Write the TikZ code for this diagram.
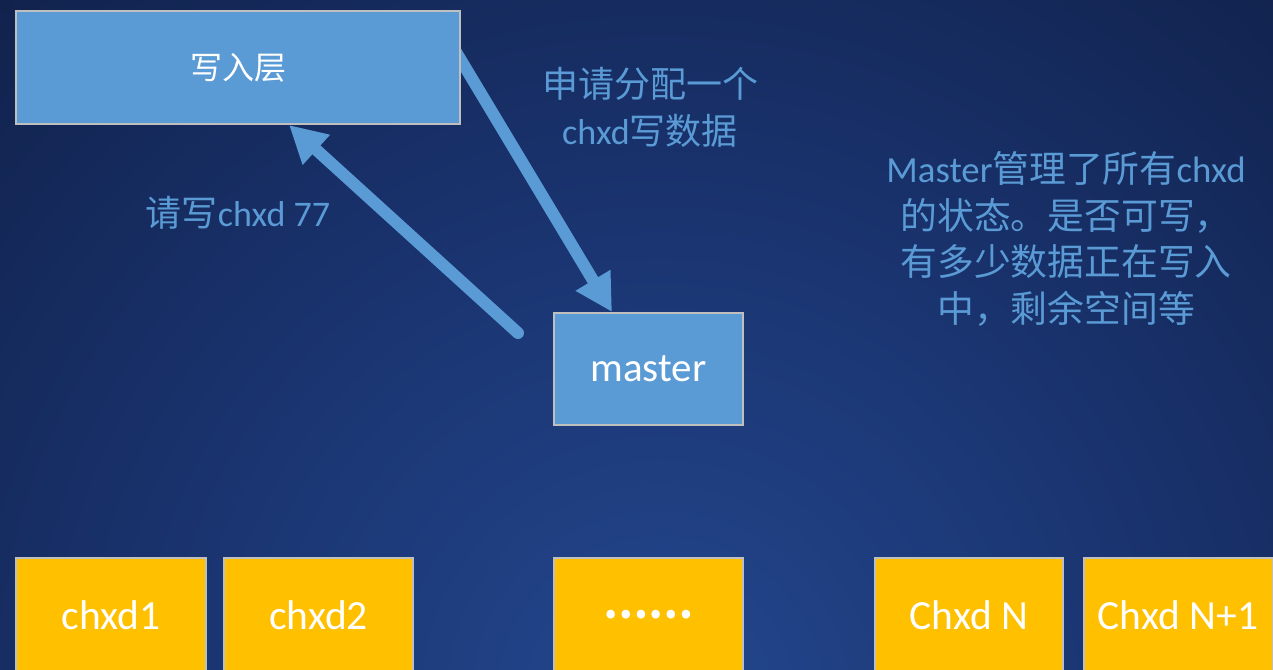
\documentclass[tikz,border=0pt]{standalone}
\usepackage{fontspec}
\setmainfont{Carlito}
\newfontfamily\cjk{Noto Sans CJK SC}
\usetikzlibrary{arrows.meta,calc}
\definecolor{bgA}{HTML}{23478E}
\definecolor{bgM}{HTML}{1A3470}
\definecolor{bgB}{HTML}{0F1E44}
\definecolor{bgC}{HTML}{080F22}
\definecolor{boxblue}{HTML}{5B9BD5}
\definecolor{boxgold}{HTML}{FFC000}
\definecolor{edgegray}{HTML}{BFBFBF}
\pgfdeclareradialshading{bgshade}{\pgfpointorigin}{color(0bp)=(bgA); color(12bp)=(bgM); color(27bp)=(bgB); color(50bp)=(bgC)}
\tikzset{
  bluebox/.style={draw=edgegray, line width=2pt, fill=boxblue, inner sep=0pt, text=white},
  goldbox/.style={draw=edgegray, line width=2pt, fill=boxgold, inner sep=0pt, text=white,
    minimum height=114pt, font=\fontsize{41.5}{48}\selectfont},
  lbl/.style={text=boxblue, align=center, font=\fontsize{36}{47}\selectfont, inner sep=0pt},
  bigarrow/.style={draw=boxblue, line width=12pt, line cap=round,
    -{Triangle[width=38pt,length=37pt]}}
}
\begin{document}
\begin{tikzpicture}[x=1pt,y=-1pt]
\useasboundingbox (0,0) rectangle (1273,669);
\begin{scope}
\clip (0,0) rectangle (1273,669);
\shade[shading=bgshade] (660,700) circle (1000);
\end{scope}
% nodes
\node[bluebox, minimum width=189pt, minimum height=112pt, font=\fontsize{41}{48}\selectfont] (master) at (648.5,369) {master};
\coordinate (a1s) at (456,52);
\coordinate (a2s) at (518,333);
\coordinate (wlpos) at (238,67.5);
\draw[bigarrow] (a1s) -- ($(master.north west)+(59,0)$);
\node[bluebox, minimum width=444pt, minimum height=113pt, font=\cjk\fontsize{32}{38}\selectfont] (wl) at (wlpos) {写入层};
\draw[bigarrow] (a2s) -- ($(wl.south west)+(274,0)$);
% labels
\node[lbl] (l1) at (650,107) {{\cjk 申请分配一个}\\chxd{\cjk 写数据}};
\node[lbl] (l2) at (238,213) {{\cjk 请写}chxd 77};
\node[lbl, font=\fontsize{36.8}{46.5}\selectfont] (l3) at (1066,239) {Master{\cjk 管理了所有}chxd\\{\cjk 的状态。是否可写，}\\{\cjk 有多少数据正在写入}\\{\cjk 中，剩余空间等}};
% bottom boxes
\node[goldbox, minimum width=190pt] (c1) at (111,615) {chxd1};
\node[goldbox, minimum width=189pt] (c2) at (318.5,615) {chxd2};
\node[goldbox, minimum width=189pt, font=\cjk\bfseries\fontsize{40}{44}\selectfont] (c3) at (648.5,615) {……};
\node[goldbox, minimum width=188pt] (c4) at (969,615) {Chxd N};
\node[goldbox, minimum width=189pt] (c5) at (1178,615) {Chxd N+1};
\end{tikzpicture}
\end{document}
